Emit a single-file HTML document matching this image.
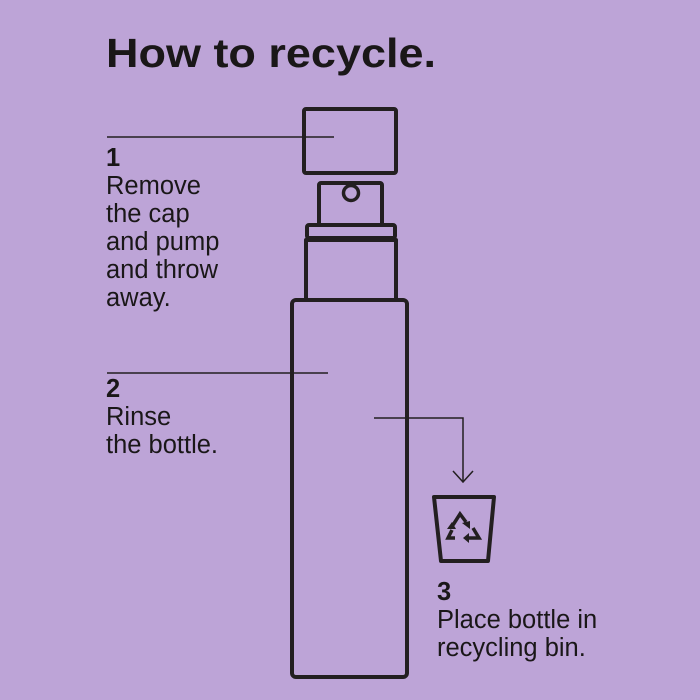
<!DOCTYPE html>
<html><head><style>html,body{margin:0;padding:0;background:#bda4d7;}svg{display:block}</style></head>
<body>
<svg width="700" height="700" viewBox="0 0 700 700" xmlns="http://www.w3.org/2000/svg" font-family="Liberation Sans, Arial, sans-serif" fill="#1a1718">
<rect width="700" height="700" fill="#bda4d7"/>
<text x="106" y="67" font-size="41" font-weight="bold" textLength="330" lengthAdjust="spacingAndGlyphs">How to recycle.</text>
<g fill="none" stroke="#231f20" stroke-width="4" stroke-linejoin="round">
<rect x="304" y="109" width="92" height="64" rx="2"/>
<rect x="319" y="183" width="63" height="42" rx="2"/>
<circle cx="351" cy="193" r="7.5" stroke-width="3.5"/>
<rect x="307" y="225" width="88" height="13" rx="2"/>
<path d="M306 300 V240 H396 V300"/>
<rect x="292" y="300" width="115" height="377" rx="4"/>
<path d="M434 497 H494 L488 561 H441 Z"/>
</g>
<g stroke="#231f20" stroke-width="1.5" fill="none">
<line x1="107" y1="137" x2="334" y2="137"/>
<line x1="107" y1="373" x2="328" y2="373"/>
<path d="M374 418 H463 V482"/>
<path d="M453 471 L463 482 L473 471"/>
</g>
<g stroke="#231f20" stroke-width="3.5" fill="none" stroke-linejoin="miter">
<path d="M453 525 L460 514 L466 522"/>
<path d="M473 528 L479 538 L468 538"/>
<path d="M455 538 L448 538 L452 530"/>
</g>
<g fill="#231f20">
<path d="M462 523 l8 -2 l0 8 z"/>
<path d="M469 533 l-6 5 l6 5 z"/>
<path d="M447 529 l5 -7 l4 7 z"/>
</g>
<g font-size="25.5">
<text x="106" y="166" font-weight="bold">1</text>
<text x="106" y="194">Remove</text>
<text x="106" y="222">the cap</text>
<text x="106" y="250">and pump</text>
<text x="106" y="278">and throw</text>
<text x="106" y="306">away.</text>
<text x="106" y="397" font-weight="bold">2</text>
<text x="106" y="425">Rinse</text>
<text x="106" y="453">the bottle.</text>
<text x="437" y="600" font-weight="bold">3</text>
<text x="437" y="628">Place bottle in</text>
<text x="437" y="656">recycling bin.</text>
</g>
</svg>
</body></html>
